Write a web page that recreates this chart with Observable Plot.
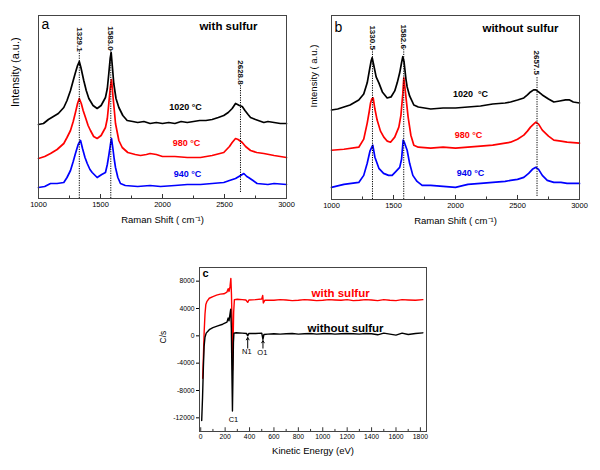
<!DOCTYPE html>
<html><head><meta charset="utf-8">
<script src="https://cdn.jsdelivr.net/npm/d3@7"></script>
<script src="https://cdn.jsdelivr.net/npm/@observablehq/plot@0.6"></script>
<style>
body{margin:0;background:#fff;}
#fig{position:relative;width:600px;height:470px;font-family:"Liberation Sans",Arial,sans-serif;}
#fig > div{position:absolute;}
</style></head><body>
<div id="fig"><div id="pa" style="left:0;top:0"></div><div id="pb" style="left:300px;top:0"></div><div id="pc" style="left:150px;top:240px"></div></div>
<script>
// ---------- Raman data (x: Raman shift cm-1, y: intensity a.u., offset stacked) ----------
const ramanTicks = [1000, 1500, 2000, 2500, 3000];
const ramanMinor = [1250, 1750, 2250, 2750];

const a1020 = [[1000,74],[1040,75],[1080,79],[1120,82],[1160,85],[1204,91],[1230,98],[1258,108],[1280,118],[1298,126],[1315,133],[1329,137],[1342,131],[1365,118],[1385,108],[1406,100],[1440,93],[1473,90],[1505,93],[1540,101],[1555,110],[1567,125],[1578,140],[1586,146],[1595,133],[1607,115],[1625,100],[1648,91],[1680,83],[1715,78],[1760,77],[1800,76],[1850,77],[1900,75],[1950,76],[2000,75],[2050,76],[2100,75],[2150,77],[2200,76],[2250,77],[2300,78],[2350,78],[2400,79],[2450,81],[2494,83],[2530,86],[2562,90],[2589,95],[2605,94],[2620,93],[2643,92],[2665,88],[2690,84],[2710,81],[2750,79],[2817,76],[2850,77],[2900,76],[2950,75],[3000,75]];
const a980 = [[1000,40],[1050,42],[1097,45],[1150,49],[1204,55],[1230,61],[1258,68],[1280,77],[1298,86],[1315,95],[1329,100],[1345,95],[1360,88],[1379,81],[1400,73],[1419,68],[1445,62],[1473,60],[1505,63],[1540,71],[1555,80],[1567,95],[1578,110],[1589,119],[1600,103],[1610,90],[1621,75],[1648,58],[1675,51],[1720,46],[1780,44],[1823,43],[1870,44],[1900,45],[1950,44],[2000,42],[2100,42],[2200,41],[2306,41],[2400,43],[2494,46],[2540,52],[2562,56],[2589,60],[2610,59],[2643,56],[2670,52],[2710,48],[2760,46],[2817,45],[2900,43],[3000,41]];
const a940 = [[1000,11],[1050,12],[1097,15],[1150,15],[1204,16],[1230,21],[1258,28],[1280,37],[1298,45],[1320,54],[1339,58],[1355,50],[1375,41],[1393,35],[1415,29],[1433,26],[1473,21],[1510,24],[1540,26],[1555,34],[1567,43],[1580,54],[1589,60],[1600,50],[1610,40],[1621,31],[1640,21],[1661,15],[1700,13],[1800,12],[1900,13],[1984,12],[2100,13],[2200,14],[2306,14],[2400,15],[2494,16],[2540,18],[2589,20],[2630,23],[2656,25],[2680,22],[2694,21],[2730,18],[2763,15],[2850,14],[2900,15],[3000,14]];

const b1020 = [[1000,89],[1050,90],[1100,92],[1150,94],[1220,99],[1260,105],[1288,116],[1305,128],[1320,138],[1328,141],[1340,134],[1360,122],[1382,116],[1410,107],[1449,101],[1480,102],[1510,108],[1530,116],[1550,126],[1565,136],[1575,142],[1585,137],[1600,120],[1610,112],[1630,103],[1664,94],[1700,92],[1750,91],[1800,90],[1900,91],[2000,91],[2100,92],[2202,93],[2300,95],[2400,96],[2444,97],[2500,99],[2551,101],[2580,104],[2605,107],[2630,109],[2648,109],[2670,107],[2700,104],[2750,100],[2793,97],[2840,98],[2887,99],[2920,99],[2950,97],[3000,96]];
const b980 = [[1000,49],[1100,50],[1220,52],[1260,60],[1288,76],[1305,88],[1315,96],[1325,100],[1336,101],[1350,90],[1368,79],[1395,68],[1422,62],[1450,58],[1476,57],[1510,62],[1543,72],[1560,84],[1575,105],[1583,121],[1595,108],[1618,82],[1640,64],[1664,54],[1700,52],[1800,51],[1900,52],[2000,51],[2100,52],[2202,53],[2300,54],[2400,56],[2444,57],[2500,60],[2551,64],[2580,68],[2605,72],[2630,75],[2648,77],[2670,75],[2700,69],[2750,63],[2793,59],[2850,58],[2900,57],[3000,56]];
const b940 = [[1000,12],[1100,15],[1220,17],[1260,24],[1288,36],[1310,48],[1333,54],[1350,42],[1382,31],[1420,26],[1460,24],[1489,24],[1520,28],[1550,32],[1565,40],[1578,59],[1590,56],[1610,49],[1630,36],[1656,24],[1690,18],[1731,14],[1800,14],[1900,13],[2000,12],[2100,15],[2202,16],[2300,17],[2400,18],[2444,19],[2500,20],[2551,22],[2590,26],[2620,30],[2648,32],[2670,30],[2700,24],[2740,19],[2793,17],[2850,17],[2900,16],[3000,16]];

const peakLabelsA = ["1329.1", "1583.0", "2628.8"];
const peakLabelsB = ["1330.5", "1582.6", "2657.5"];
const tempLabels = ["1020 °C", "980 °C", "940 °C"];

// ---------- Auger data (x: kinetic energy eV, y: C/s) ----------
const augerXTicks = [0,200,400,600,800,1000,1200,1400,1600,1800];
const augerYTicks = [-12000,-8000,-4000,0,4000,8000];
const withS = [[16,-6200],[22,-3000],[28,500],[35,3200],[42,4600],[50,5000],[70,5500],[100,5750],[130,5950],[160,6100],[190,6150],[215,6400],[225,6900],[232,6500],[240,7200],[247,8400],[252,6000],[257,1500],[261,-5000],[265,-1000],[270,3500],[276,5300],[300,5350],[340,5300],[370,5250],[385,4900],[395,5250],[450,5300],[500,5400],[508,5900],[513,4800],[525,5200],[600,5200],[650,5300],[700,5250],[750,5150],[800,5200],[850,5300],[900,5250],[950,5150],[1000,5200],[1050,5300],[1100,5250],[1150,5200],[1200,5300],[1250,5150],[1300,5200],[1350,5300],[1400,5250],[1450,5150],[1500,5300],[1550,5200],[1600,5150],[1650,5300],[1700,5250],[1760,5200],[1820,5300]];
const withoutS = [[8,-12400],[15,-9000],[22,-4500],[28,-1500],[35,-200],[45,400],[70,900],[100,1200],[140,1450],[180,1700],[215,2000],[225,2600],[232,2200],[240,3200],[246,3900],[251,1000],[256,-6000],[260,-11000],[264,-6000],[268,-1000],[272,400],[290,450],[340,400],[375,350],[385,0],[395,350],[450,350],[500,400],[510,-500],[518,200],[550,250],[600,300],[650,250],[700,300],[750,350],[800,250],[850,300],[900,350],[950,250],[1000,300],[1050,350],[1100,250],[1150,300],[1200,350],[1250,300],[1300,250],[1350,350],[1400,300],[1450,150],[1500,400],[1550,250],[1600,100],[1650,400],[1700,200],[1760,350],[1820,440]];

// ---------- helpers ----------
const rows = (pairs) => pairs.map(([x, y]) => ({x, y}));
const FONT = '"Liberation Sans", Arial, sans-serif';

function ramanPanel({curves, peaks, temps, title, letter, width, marginLeft, marginRight, marginBottom, ylabel, ylabelSize, ylabelDx}) {
  return Plot.plot({
    width, height: 235, marginLeft, marginRight, marginTop: 15, marginBottom,
    style: {fontFamily: FONT, fontSize: "7.5px", background: "transparent", overflow: "visible"},
    x: {domain: [1000, 3000], axis: null},
    y: {domain: [0, 183], axis: null},
    marks: [
      Plot.ruleX(ramanTicks, {y1: 0, y2: 4, stroke: "#333"}),
      Plot.ruleX(ramanMinor, {y1: 0, y2: 2.5, stroke: "#333"}),
      Plot.axisX({ticks: ramanTicks, tickSize: 0, tickPadding: 3, tickFormat: d => String(d), label: null, fontSize: 7.5}),
      ...curves.map(c => Plot.line(rows(c.data), {x: "x", y: "y", stroke: c.color, strokeWidth: 1.7})),
      Plot.ruleX(peaks, {x: "x", y1: "bottom", y2: "top", stroke: "#000", strokeDasharray: "1.2,1.2", strokeWidth: 1}),
      Plot.text(peaks, {x: "x", y: "ly", text: "label", rotate: 90, fontSize: 8, fontWeight: "bold", fill: "#111"}),
      Plot.text(temps, {x: "x", y: "y", text: "label", fill: "color", fontSize: 9, fontWeight: "bold"}),
      Plot.text([title], {x: "x", y: "y", text: "label", fontSize: 11.5, fontWeight: "bold"}),
      Plot.text([letter], {frameAnchor: "top-left", textAnchor: "start", lineAnchor: "middle", dx: 3, dy: letter.dy, text: d => d.label, fontSize: 14}),
      Plot.text(["Raman Shift ( cm⁻¹)"], {frameAnchor: "bottom", dy: 24, text: d => d, fontSize: 9.5}),
      Plot.text([ylabel], {frameAnchor: "left", dx: ylabelDx, rotate: -90, text: d => d, fontSize: ylabelSize}),
      Plot.frame({stroke: "#444", strokeWidth: 1})
    ]
  });
}

const pa = ramanPanel({
  width: 300, marginLeft: 38, marginRight: 14, marginBottom: 37,
  curves: [{data: a1020, color: "#000"}, {data: a980, color: "#ff0000"}, {data: a940, color: "#0000ff"}],
  peaks: [
    {x: 1329.1, label: peakLabelsA[0], ly: 159, top: 148, bottom: 0},
    {x: 1583.0, label: peakLabelsA[1], ly: 160, top: 148, bottom: 0},
    {x: 2628.8, label: peakLabelsA[2], ly: 126, top: 113, bottom: 6}
  ],
  temps: [
    {x: 2185, y: 91, label: tempLabels[0], color: "#000"},
    {x: 2194, y: 55, label: tempLabels[1], color: "#ff0000"},
    {x: 2202, y: 24, label: tempLabels[2], color: "#0000ee"}
  ],
  title: {x: 2532, y: 172, label: "with sulfur"},
  letter: {label: "a", dy: 9},
  ylabel: "Intensity (a.u.)", ylabelSize: 11, ylabelDx: -23
});
document.getElementById("pa").append(pa);

const pb = ramanPanel({
  width: 300, marginLeft: 31, marginRight: 21, marginBottom: 36,
  curves: [{data: b1020, color: "#000"}, {data: b980, color: "#ff0000"}, {data: b940, color: "#0000ff"}],
  peaks: [
    {x: 1330.5, label: peakLabelsB[0], ly: 161, top: 149, bottom: 0},
    {x: 1582.6, label: peakLabelsB[1], ly: 162, top: 149, bottom: 0},
    {x: 2657.5, label: peakLabelsB[2], ly: 136, top: 122, bottom: 3}
  ],
  temps: [
    {x: 2121, y: 105, label: "1020  °C", color: "#000"},
    {x: 2105, y: 64, label: tempLabels[1], color: "#ff0000"},
    {x: 2121, y: 26, label: tempLabels[2], color: "#0000ee"}
  ],
  title: {x: 2524, y: 170, label: "without sulfur"},
  letter: {label: "b", dy: 12},
  ylabel: "Intensity ( a.u.)", ylabelSize: 9.5, ylabelDx: -18
});
document.getElementById("pb").append(pb);

const pc = Plot.plot({
  width: 290, height: 230, marginLeft: 49, marginRight: 14, marginTop: 27, marginBottom: 39,
  style: {fontFamily: FONT, fontSize: "6.5px", background: "transparent", overflow: "visible"},
  x: {domain: [-10, 1850], axis: null},
  y: {domain: [-14000, 10000], axis: null},
  marks: [
    Plot.ruleX(augerXTicks, {y1: -14000, y2: -13450, stroke: "#333"}),
    Plot.ruleX(augerXTicks.slice(0, -1).map(d => d + 100), {y1: -14000, y2: -13700, stroke: "#333"}),
    Plot.axisX({ticks: augerXTicks, tickSize: 0, tickPadding: 3, tickFormat: d => String(d), label: null, fontSize: 6.8}),
    Plot.axisY({ticks: augerYTicks, tickSize: 3, tickPadding: 2, tickFormat: d => String(d), label: null, fontSize: 6.8}),
    Plot.line(rows(withS), {x: "x", y: "y", stroke: "#ff0000", strokeWidth: 1.4}),
    Plot.line(rows(withoutS), {x: "x", y: "y", stroke: "#000", strokeWidth: 1.4}),
    Plot.arrow([{x: 385, y1: -1800, y2: -250}, {x: 510, y1: -1800, y2: -700}], {x1: "x", x2: "x", y1: "y1", y2: "y2", stroke: "#000", strokeWidth: 1, headLength: 4}),
    Plot.text([{x: 378, y: -2300, t: "N1"}, {x: 505, y: -2500, t: "O1"}, {x: 268, y: -12200, t: "C1"}], {x: "x", y: "y", text: "t", fontSize: 7.5}),
    Plot.text([{x: 1146, y: 6250, t: "with sulfur", c: "#ff0000"}, {x: 1187, y: 1150, t: "without sulfur", c: "#000"}], {x: "x", y: "y", text: "t", fill: "c", fontSize: 11.5, fontWeight: "bold"}),
    Plot.text(["c"], {frameAnchor: "top-left", textAnchor: "start", lineAnchor: "middle", dx: 3, dy: 6, text: d => d, fontSize: 11, fontWeight: "bold"}),
    Plot.text(["Kinetic Energy (eV)"], {frameAnchor: "bottom", dy: 22, text: d => d, fontSize: 9.5}),
    Plot.text(["C/s"], {frameAnchor: "left", dx: -36, dy: -6, rotate: -90, text: d => d, fontSize: 8.5}),
    Plot.frame({stroke: "#444", strokeWidth: 1})
  ]
});
document.getElementById("pc").append(pc);
</script></body></html>
